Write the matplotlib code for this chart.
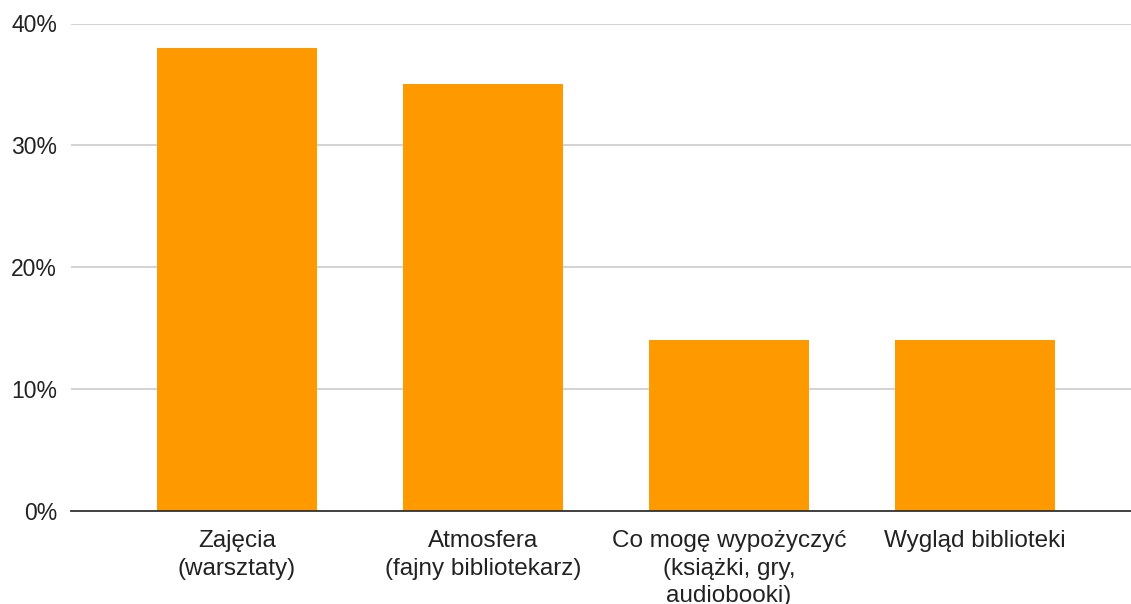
import matplotlib.pyplot as plt
from matplotlib.ticker import FuncFormatter

plt.rcParams['font.family'] = ['Liberation Sans', 'DejaVu Sans']

categories = ['Zajęcia\n(warsztaty)', 'Atmosfera\n(fajny bibliotekarz)',
              'Co mogę wypożyczyć\n(książki, gry,\naudiobooki)', 'Wygląd biblioteki']
values = [38, 35, 14, 14]
yticks = [0, 10, 20, 30, 40]

fig = plt.figure(figsize=(11.31, 6.04), dpi=100)
ax = fig.add_axes([71 / 1131, 93 / 604, 1060 / 1131, 487.5 / 604])

x = range(len(categories))
ax.bar(x, values, width=0.65, color='#ff9900', zorder=2)

ax.set_ylim(0, 40)
ax.set_xlim(-0.675, 3.634)
ax.set_yticks(yticks)
ax.yaxis.set_major_formatter(FuncFormatter(lambda v, p: '%d%%' % v))
ax.set_xticks(list(x))
ax.set_xticklabels(categories, fontsize=17.5, linespacing=1.3, va='top')
ax.tick_params(axis='y', labelsize=16.5, length=0, pad=10, colors='#222222')
ax.tick_params(axis='x', length=0, pad=14, colors='#222222')

ax.grid(axis='y', color='#cccccc', linewidth=1.2, zorder=0)
for s in ['top', 'right', 'left']:
    ax.spines[s].set_visible(False)
ax.spines['bottom'].set_color('#333333')
ax.spines['bottom'].set_linewidth(1.3)
ax.spines['bottom'].set_zorder(3)

fig.savefig('out.png', dpi=100)
